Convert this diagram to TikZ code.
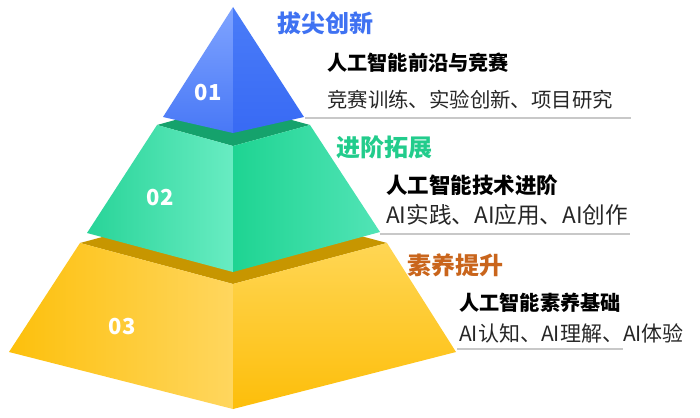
\documentclass[tikz,border=0pt]{standalone}
\usepackage{fontspec}
\setmainfont{Noto Sans CJK SC}
\definecolor{bluetitle}{HTML}{3F72F2}
\definecolor{greentitle}{HTML}{22CC8C}
\definecolor{orangetitle}{HTML}{C9651C}
\definecolor{sepline}{HTML}{C8C8C8}
\tikzset{
  tiertitle/.style={anchor=west,inner sep=0pt,font=\fontsize{24}{27}\selectfont\bfseries},
  tierhead/.style={anchor=west,inner sep=0pt,font=\fontsize{20.2}{24}\selectfont\bfseries,text=black},
  tierbody/.style={anchor=west,inner sep=0pt,font=\fontsize{20.4}{24}\selectfont,text=black!85},
  tiernum/.style={inner sep=0pt,font=\fontsize{22}{24}\selectfont\bfseries,text=white},
  sep/.style={draw=sepline,line width=1.2pt}
}
\begin{document}
\begin{tikzpicture}[x=1pt,y=-1pt]
\useasboundingbox (0,0) rectangle (700,417);
% ---- yellow tier ----
\fill[fill={rgb,255:red,199;green,150;blue,0}] (80,243) -- (233,202) -- (387,243) -- (233,284) -- cycle;
\shade[left color={rgb,255:red,253;green,192;blue,12},right color={rgb,255:red,255;green,214;blue,94}]
  (80,243) -- (233,284) -- (233,409) -- (9,352) -- cycle;
\shade[top color={rgb,255:red,255;green,214;blue,84},bottom color={rgb,255:red,253;green,190;blue,10}]
  (233,284) -- (387,243) -- (456,352) -- (233,409) -- cycle;
% ---- green tier ----
\fill[fill={rgb,255:red,21;green,162;blue,108}] (157,125) -- (233,104) -- (310,125) -- (233,146) -- cycle;
\shade[left color={rgb,255:red,40;green,212;blue,152},right color={rgb,255:red,104;green,236;blue,194}]
  (157,125) -- (233,146) -- (233,272) -- (87,233) -- cycle;
\shade[left color={rgb,255:red,30;green,212;blue,146},right color={rgb,255:red,82;green,228;blue,182}]
  (233,146) -- (310,125) -- (380,232) -- (233,272) -- cycle;
% ---- blue pyramid ----
\shade[top color={rgb,255:red,128;green,164;blue,255},bottom color={rgb,255:red,72;green,120;blue,246}]
  (233,7) -- (233,133) -- (163,117) -- cycle;
\shade[top color={rgb,255:red,74;green,124;blue,248},bottom color={rgb,255:red,56;green,106;blue,244}]
  (233,7) -- (304,117) -- (233,133) -- cycle;
% ---- numbers ----
\node[tiernum] (n1) at (208,93) {01};
\node[tiernum] (n2) at (160,198) {02};
\node[tiernum] (n3) at (122,327) {03};
% ---- texts tier 1 ----
\node[tiertitle,text=bluetitle] (t1) at (277,23) {拔尖创新};
\node[tierhead] (h1) at (327,63) {人工智能前沿与竞赛};
\node[tierbody] (b1) at (327,100) {竞赛训练、实验创新、项目研究};
\coordinate (l1a) at (305,118);
\coordinate (l1b) at (631,118);
\draw[sep] (l1a) -- (l1b);
% ---- texts tier 2 ----
\node[tiertitle,text=greentitle] (t2) at (336,147) {进阶拓展};
\node[tierhead,font=\fontsize{21.5}{24}\selectfont\bfseries] (h2) at (386,185) {人工智能技术进阶};
\node[tierbody,font=\fontsize{22.6}{26}\selectfont] (b2) at (386,215) {AI实践、AI应用、AI创作};
\coordinate (l2a) at (380,234);
\coordinate (l2b) at (630,234);
\draw[sep] (l2a) -- (l2b);
% ---- texts tier 3 ----
\node[tiertitle,text=orangetitle] (t3) at (407,265) {素养提升};
\node[tierhead] (h3) at (459,303) {人工智能素养基础};
\node[tierbody,font=\fontsize{21}{24}\selectfont] (b3) at (459,333) {AI认知、AI理解、AI体验};
\coordinate (l3a) at (457,349);
\coordinate (l3b) at (623,349);
\draw[sep] (l3a) -- (l3b);
\end{tikzpicture}
\end{document}
